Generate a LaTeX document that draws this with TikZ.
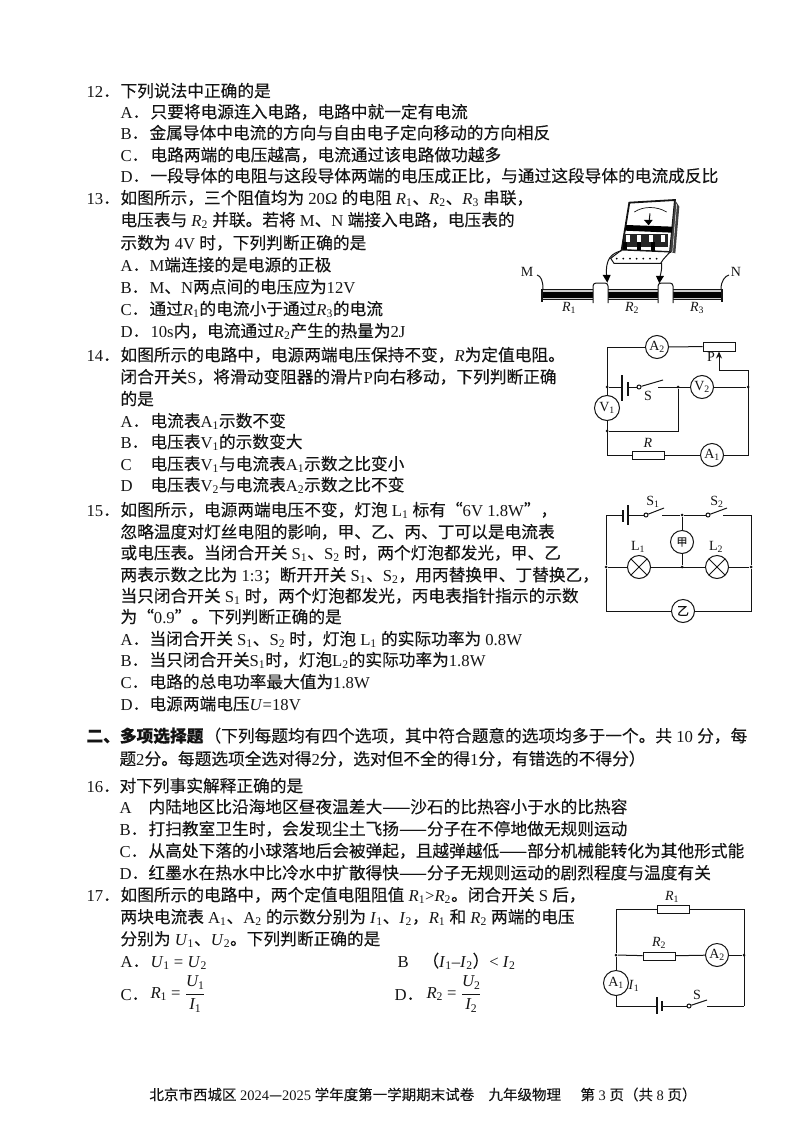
\documentclass[tikz,border=0pt]{standalone}
\usepackage{fix-cm}
\usepackage{fontspec}
\setmainfont{Liberation Serif}
\newfontfamily\cjk[FakeBold=0.15]{Noto Sans CJK SC}
\usetikzlibrary{arrows.meta}

% CJK letters switch to the CJK font by themselves
\makeatletter
\newXeTeXintercharclass\cjkclass
\newcommand\setcjkrange[2]{\count@=#1 \loop\XeTeXcharclass\count@=\cjkclass\ifnum\count@<#2 \advance\count@ 1 \repeat}
\setcjkrange{"4E00}{"9FFF}
\setcjkrange{"3000}{"303F}
\setcjkrange{"FF00}{"FFEF}
\setcjkrange{"2014}{"2014}
\setcjkrange{"201C}{"201D}
\makeatother
\XeTeXinterchartokenstate=1
\XeTeXinterchartoks 0 \cjkclass = {\begingroup\cjk}
\XeTeXinterchartoks 4095 \cjkclass = {\begingroup\cjk}
\XeTeXinterchartoks \cjkclass 0 = {\endgroup}
\XeTeXinterchartoks \cjkclass 4095 = {\endgroup}

\newcommand\iv[2]{\textit{#1}\textsubscript{#2}}
\newcommand\uv[2]{#1\textsubscript{#2}}

\tikzset{
  line/.style={anchor=base west,inner sep=0,font=\fontsize{16.7}{20}\selectfont},
  foot/.style={anchor=base west,inner sep=0,font=\fontsize{14.5}{18}\selectfont},
  lab/.style={inner sep=0,font=\fontsize{14}{15}\selectfont},
  meter/.style={draw,circle,fill=white,minimum size=23pt,inner sep=0,font=\fontsize{14}{15}\selectfont},
  lamp/.style={draw,circle,fill=white,minimum size=23pt,inner sep=0},
  res/.style={draw,rectangle,fill=white,minimum width=32pt,minimum height=8pt,inner sep=0},
  dot/.style={circle,fill,minimum size=3pt,inner sep=0},
  pivot/.style={draw,circle,fill=white,minimum size=4pt,inner sep=0},
  plate/.style={line width=1.3pt}
}

\begin{document}
\begin{tikzpicture}[x=1pt,y=-1pt,line width=1pt,color=black!92]
\useasboundingbox (0,0) rectangle (794,1124);

% question 12
\node[line] (q12) at (86,97) {12．};
\node[line] (t12) at (120,97) {下列说法中正确的是};
\node[line] (a12) at (120,118) {A．}; \node[line] (ta12) at (150,118) {只要将电源连入电路，电路中就一定有电流};
\node[line] (b12) at (120,139) {B．}; \node[line] (tb12) at (149,139) {金属导体中电流的方向与自由电子定向移动的方向相反};
\node[line] (c12) at (120,161) {C．}; \node[line] (tc12) at (150,161) {电路两端的电压越高，电流通过该电路做功越多};
\node[line] (d12) at (120,182) {D．}; \node[line] (td12) at (150,182) {一段导体的电阻与这段导体两端的电压成正比，与通过这段导体的电流成反比};

% question 13
\node[line] (q13) at (86,204) {13．};
\node[line] (t13) at (120,204) {如图所示，三个阻值均为 20Ω 的电阻 \iv{R}{1}、\iv{R}{2}、\iv{R}{3} 串联，};
\node[line] (u13) at (120,226) {电压表与 \iv{R}{2} 并联。若将 M、N 端接入电路，电压表的};
\node[line] (v13) at (120,249) {示数为 4V 时，下列判断正确的是};
\node[line] (a13) at (120,271) {A．}; \node[line] (ta13) at (149,271) {M端连接的是电源的正极};
\node[line] (b13) at (120,293) {B．}; \node[line] (tb13) at (149,293) {M、N两点间的电压应为12V};
\node[line] (c13) at (120,315) {C．}; \node[line] (tc13) at (149,315) {通过\iv{R}{1}的电流小于通过\iv{R}{3}的电流};
\node[line] (d13) at (120,337) {D．}; \node[line] (td13) at (150,337) {10s内，电流通过\iv{R}{2}产生的热量为2J};

% question 14
\node[line] (q14) at (86,361) {14．};
\node[line] (t14) at (120,361) {如图所示的电路中，电源两端电压保持不变，\textit{R}为定值电阻。};
\node[line] (u14) at (120,383) {闭合开关S，将滑动变阻器的滑片P向右移动，下列判断正确};
\node[line] (v14) at (120,405) {的是};
\node[line] (a14) at (120,427) {A．}; \node[line] (ta14) at (150,427) {电流表\uv{A}{1}示数不变};
\node[line] (b14) at (120,448) {B．}; \node[line] (tb14) at (150,448) {电压表\uv{V}{1}的示数变大};
\node[line] (c14) at (120,470) {C}; \node[line] (tc14) at (150,470) {电压表\uv{V}{1}与电流表\uv{A}{1}示数之比变小};
\node[line] (d14) at (120,491) {D}; \node[line] (td14) at (150,491) {电压表\uv{V}{2}与电流表\uv{A}{2}示数之比不变};

% question 15
\node[line] (q15) at (86,516) {15．};
\node[line] (t15) at (120,516) {如图所示，电源两端电压不变，灯泡 \uv{L}{1} 标有“6V 1.8W”，};
\node[line] (u15) at (120,538) {忽略温度对灯丝电阻的影响，甲、乙、丙、丁可以是电流表};
\node[line] (v15) at (120,559) {或电压表。当闭合开关 \uv{S}{1}、\uv{S}{2} 时，两个灯泡都发光，甲、乙};
\node[line] (w15) at (120,581) {两表示数之比为 1:3；断开开关 \uv{S}{1}、\uv{S}{2}，用丙替换甲、丁替换乙，};
\node[line] (x15) at (120,602) {当只闭合开关 \uv{S}{1} 时，两个灯泡都发光，丙电表指针指示的示数};
\node[line] (y15) at (120,623) {为“0.9”。下列判断正确的是};
\node[line] (a15) at (120,645) {A．}; \node[line] (ta15) at (149,645) {当闭合开关 \uv{S}{1}、\uv{S}{2} 时，灯泡 \uv{L}{1} 的实际功率为 0.8W};
\node[line] (b15) at (120,666) {B．}; \node[line] (tb15) at (149,666) {当只闭合开关\uv{S}{1}时，灯泡\uv{L}{2}的实际功率为1.8W};
\node[line] (c15) at (120,688) {C．}; \node[line] (tc15) at (149,688) {电路的总电功率最大值为1.8W};
\node[line] (d15) at (120,710) {D．}; \node[line] (td15) at (149,710) {电源两端电压\textit{U}=18V};

% second part
\node[line,font=\fontsize{16.7}{20}\selectfont\bfseries] (sec) at (86,742) {二、多项选择题};
\node[line] (tsec) at (204,742) {（下列每题均有四个选项，其中符合题意的选项均多于一个。共 10 分，每};
\node[line] (usec) at (119,765) {题2分。每题选项全选对得2分，选对但不全的得1分，有错选的不得分）};

% question 16
\node[line] (q16) at (86,792) {16．};
\node[line] (t16) at (119,792) {对下列事实解释正确的是};
\node[line] (a16) at (119,813) {A}; \node[line] (ta16) at (148,813) {内陆地区比沿海地区昼夜温差大——沙石的比热容小于水的比热容};
\node[line] (b16) at (119,835) {B．}; \node[line] (tb16) at (148,835) {打扫教室卫生时，会发现尘土飞扬——分子在不停地做无规则运动};
\node[line] (c16) at (119,857) {C．}; \node[line] (tc16) at (148,857) {从高处下落的小球落地后会被弹起，且越弹越低——部分机械能转化为其他形式能};
\node[line] (d16) at (119,879) {D．}; \node[line] (td16) at (148,879) {红墨水在热水中比冷水中扩散得快——分子无规则运动的剧烈程度与温度有关};

% question 17
\node[line] (q17) at (86,901) {17．};
\node[line] (t17) at (120,901) {如图所示的电路中，两个定值电阻阻值 \iv{R}{1}>\iv{R}{2}。闭合开关 S 后，};
\node[line] (u17) at (120,923) {两块电流表 \uv{A}{1}、\uv{A}{2} 的示数分别为 \iv{I}{1}、\iv{I}{2}，\iv{R}{1} 和 \iv{R}{2} 两端的电压};
\node[line] (v17) at (120,945) {分别为 \iv{U}{1}、\iv{U}{2}。下列判断正确的是};
\node[line] (a17) at (120,967) {A．}; \node[line] (ta17) at (150,967) {\iv{U}{1} = \iv{U}{2}};
\node[line] (b17) at (397,967) {B}; \node[line] (tb17) at (422,967) {（\iv{I}{1}--\iv{I}{2}）< \iv{I}{2}};
\node[line] (c17) at (120,1000) {C．};
\node[line,anchor=west] (tc17) at (150,994) {\iv{R}{1} = $\displaystyle\frac{\iv{U}{1}}{\iv{I}{1}}$};
\node[line] (d17) at (394,1000) {D．};
\node[line,anchor=west] (td17) at (426,994) {\iv{R}{2} = $\displaystyle\frac{\iv{U}{2}}{\iv{I}{2}}$};

% foot line
\node[foot] (ft1) at (149,1100) {北京市西城区 2024—2025 学年度第一学期期末试卷};
\node[foot] (ft2) at (488,1100) {九年级物理};
\node[foot] (ft3) at (580,1100) {第 3 页（共 8 页）};

% figure of question 13, three resistors
\foreach \xa/\xb/\rn in {542/593/1,608/658/2,672/722/3} {
  \fill[black!20] (\xa,289) rectangle (\xb,300);
  \fill[black] (\xa,291.5) rectangle (\xb,298);
  \draw[line width=0.6pt] (\xa,289.5) -- (\xb,289.5);
  \draw[line width=0.6pt] (\xa,299.5) -- (\xb,299.5);
}
\draw[line width=1.6pt] (542,289) -- (542,302);
\draw[line width=1.6pt] (722,289) -- (722,302);
\foreach \xc in {593,658} {
  \draw[fill=white,rounded corners=3pt] (\xc,303) -- (\xc,283) -- (\xc+15,283) -- (\xc+15,303);
}
\node[lab] (M) at (527,272) {M};
\node[lab] (N) at (736,272) {N};
\draw (537,275) .. controls (541,276) and (543,281) .. (543,289);
\draw (729,275) .. controls (725,276) and (721,281) .. (721,289);
\node[lab] (R1a) at (569,308) {\iv{R}{1}};
\node[lab] (R2a) at (632,308) {\iv{R}{2}};
\node[lab] (R3a) at (697,308) {\iv{R}{3}};

% the voltmeter on top
\begin{scope}[shift={(500,190)},x=0.3333pt,y=-0.3333pt]
\draw[line width=1.8pt,fill=white] (388,38) -- (525,30) -- (510,186) -- (365,180) -- cycle;
\fill[black!75] (525,30) -- (538,50) -- (526,190) -- (510,186) -- cycle;
\draw[line width=0.5pt,white] (530,42) -- (518,186);
\fill[black] (378,105) -- (518,110) -- (516,128) -- (375,122) -- cycle;
\draw[line width=0.7pt] (403,66) .. controls (430,48) and (470,48) .. (500,66);
\draw[line width=1pt] (447,100) -- (450,70);
\fill[black] (432,90) -- (458,90) -- (446,106) -- cycle;
\fill[black!85] (372,132) rectangle (505,172);
\foreach \xt in {385,420,455,490} { \fill[white] (\xt-8,136) rectangle (\xt+4,155); }
\foreach \xt in {375,417,460} { \fill[black] (\xt-6,155) rectangle (\xt+6,195); }
\draw[line width=1pt,fill=white] (365,180) -- (510,186) -- (490,208) -- (482,220) -- (342,220) -- (332,205) -- cycle;
\foreach \xs in {350,370,390,410,430,450,470} { \fill[black] (\xs,206) circle (3); }
\draw (365,182) .. controls (335,190) and (315,205) .. (320,260);
\draw (485,218) .. controls (486,235) and (484,245) .. (480,260);
\fill[black] (308,255) -- (332,255) -- (322,278) -- cycle;
\fill[black] (468,258) -- (492,258) -- (478,280) -- cycle;
\end{scope}

% circuit of question 14
\node[meter] (A2) at (657,347) {\uv{A}{2}};
\node[res,minimum height=9pt] (RP) at (719,346.5) {};
\node[meter,minimum size=25pt] (V1) at (607,408) {\uv{V}{1}};
\node[meter] (V2) at (702,387) {\uv{V}{2}};
\node[res] (R) at (648,455) {};
\node[meter] (A1) at (712,455) {\uv{A}{1}};
\node[dot] (j1) at (607,387) {};
\node[dot] (j2) at (678,387) {};
\node[dot] (j3) at (748,387) {};
\node[dot] (j4) at (607,431) {};
\node[pivot] (S0) at (639,387) {};
\coordinate (S1) at (663,380);
\coordinate (S2) at (658,387);
\coordinate (P0) at (719,370);
\coordinate (P1) at (748,370);
\coordinate (j5) at (678,431);
\draw (A2) -- (RP);
\draw (A2) -| (V1);
\draw (V1) |- (R);
\draw (R) -- (A1);
\draw (A1) -| (P1);
\draw[-{Stealth[length=7pt,width=6pt]}] (P1) -- (P0) -- (RP.south);
\draw (j1) -- (622,387);
\draw[plate] (622,375) -- (622,401);
\draw[plate] (628,382) -- (628,396);
\draw (628,387) -- (S0);
\draw (S0) -- (S1);
\draw (S2) -- (V2);
\draw (V2) -- (j3);
\draw (j2) -- (j5) -- (j4);
\node[lab] (S) at (648,396) {S};
\node[lab] (Rl) at (648,443) {\textit{R}};
\node[lab] (Pl) at (711,357) {P};

% circuit of question 15
\node[lamp] (jia) at (682,542) {\cjk\fontsize{11}{12}\selectfont 甲};
\node[lamp] (yi) at (683,611) {\cjk\fontsize{12}{12}\selectfont 乙};
\node[lamp,path picture={\draw (path picture bounding box.north west) -- (path picture bounding box.south east) (path picture bounding box.north east) -- (path picture bounding box.south west);}] (L1) at (639,567) {};
\node[lamp,path picture={\draw (path picture bounding box.north west) -- (path picture bounding box.south east) (path picture bounding box.north east) -- (path picture bounding box.south west);}] (L2) at (717,567) {};
\node[dot] (k1) at (606,567) {};
\node[dot] (k2) at (751,567) {};
\node[dot] (k3) at (682,515) {};
\node[dot] (k4) at (682,567) {};
\node[pivot] (S10) at (646,515) {};
\node[pivot] (S20) at (708,515) {};
\coordinate (k5) at (606,515);
\coordinate (k6) at (751,515);
\draw (k5) -- (623,515);
\draw[plate] (623,510) -- (623,522);
\draw[plate] (628,505) -- (628,525);
\draw (628,515) -- (S10);
\draw (S10) -- (664,508);
\draw (662,515) -- (k3);
\draw (k3) -- (S20);
\draw (S20) -- (727,508);
\draw (723,515) -- (k6);
\draw (k5) -- (k1);
\draw (k6) -- (k2);
\draw (k3) -- (jia);
\draw (jia) -- (k4);
\draw (k1) -- (L1);
\draw (L1) -- (L2);
\draw (L2) -- (k2);
\draw (k1) |- (yi);
\draw (k2) |- (yi);
\node[lab] (S1l) at (653,502) {\uv{S}{1}};
\node[lab] (S2l) at (717,502) {\uv{S}{2}};
\node[lab] (L1l) at (638,547) {\uv{L}{1}};
\node[lab] (L2l) at (716,547) {\uv{L}{2}};

% circuit of question 17
\node[res] (R1) at (673,909) {};
\node[res] (R2) at (659,956) {};
\node[meter] (A4) at (717,955) {\uv{A}{2}};
\node[meter,minimum size=25pt] (A3) at (616,983) {\uv{A}{1}};
\node[dot] (m1) at (616,955) {};
\node[dot] (m2) at (744,955) {};
\node[pivot] (S3) at (689,1006) {};
\coordinate (m3) at (616,1006);
\coordinate (m4) at (744,1006);
\coordinate (m5) at (616,909);
\coordinate (m6) at (744,909);
\draw (m5) -- (R1);
\draw (R1) -- (m6);
\draw (m5) -- (m1);
\draw (m6) -- (m4);
\draw (m1) -- (R2);
\draw (R2) -- (A4);
\draw (A4) -- (m2);
\draw (m1) -- (A3);
\draw (A3) -- (m3);
\draw (m3) -- (657,1006);
\draw[plate] (657,997) -- (657,1014);
\draw[plate] (662,1001) -- (662,1011);
\draw (662,1006) -- (S3);
\draw (S3) -- (707,1000);
\draw (707,1006) -- (m4);
\node[lab] (R1l) at (672,897) {\iv{R}{1}};
\node[lab] (R2l) at (659,943) {\iv{R}{2}};
\node[lab] (Sl) at (697,995) {S};
\node[lab] (I1l) at (634,986) {\iv{I}{1}};
\end{tikzpicture}
\end{document}
